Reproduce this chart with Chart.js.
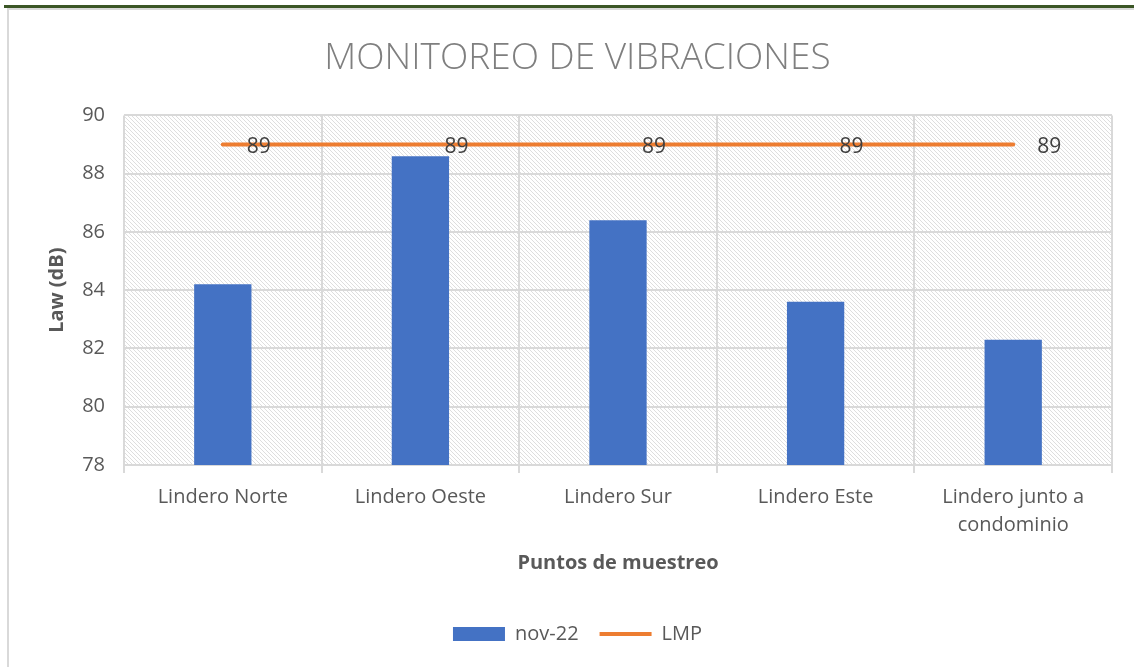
<!DOCTYPE html>
<html>
<head>
<meta charset="utf-8">
<script src="https://cdn.jsdelivr.net/npm/chart.js@4.4.0/dist/chart.umd.min.js"></script>
<style>
  html, body { margin: 0; padding: 0; background: #fff; }
  #wrap { position: relative; width: 1134px; height: 667px; overflow: hidden; }
  #topbar { position: absolute; left: 4px; top: 5px; right: 0; height: 3px; background: #3b5626; }
  #topline { position: absolute; left: 7px; top: 8px; right: 0; height: 2px; background: #d9d9d9; }
  #leftline { position: absolute; left: 7px; top: 8px; bottom: 0; width: 2px; background: #d9d9d9; }
  canvas { position: absolute; left: 0; top: 0; }
</style>
</head>
<body>
<div id="wrap">
  <div id="topbar"></div>
  <div id="topline"></div>
  <div id="leftline"></div>
  <canvas id="chart" width="1134" height="667"></canvas>
</div>
<script>
// --- datos ---
const categorias = ['Lindero Norte', 'Lindero Oeste', 'Lindero Sur', 'Lindero Este', ['Lindero junto a', 'condominio']];
const valoresNov22 = [84.2, 88.6, 86.4, 83.6, 82.3];
const valoresLMP = [89, 89, 89, 89, 89];
const ticksY = [78, 80, 82, 84, 86, 88, 90];

const gris = '#595959';
const gridColor = '#d9d9d9';
const fuente = '"Open Sans"';

// patrón rayado del área del gráfico
function crearPatron() {
    const c = document.createElement('canvas');
    c.width = 4; c.height = 4;
    const g = c.getContext('2d');
    g.fillStyle = '#ffffff';
    g.fillRect(0, 0, 4, 4);
    g.fillStyle = '#dedede';
    for (let i = 0; i < 4; i++) g.fillRect(i, i, 1, 1);
    return g.createPattern(c, 'repeat');
}

const fondoRayado = {
    id: 'fondoRayado',
    beforeDraw(chart) {
        const { ctx, chartArea: a } = chart;
        ctx.save();
        ctx.fillStyle = crearPatron();
        ctx.fillRect(a.left, a.top, a.right - a.left, a.bottom - a.top);
        ctx.restore();
    }
};

// etiquetas de datos de la línea LMP
const etiquetasLMP = {
    id: 'etiquetasLMP',
    afterDatasetsDraw(chart) {
        const { ctx } = chart;
        const meta = chart.getDatasetMeta(1);
        ctx.save();
        ctx.font = '21px ' + fuente;
        ctx.fillStyle = '#404040';
        ctx.textAlign = 'left';
        ctx.textBaseline = 'middle';
        meta.data.forEach((pt, i) => {
            ctx.fillText(String(valoresLMP[i]), pt.x + 24, pt.y + 2);
        });
        ctx.restore();
    }
};

const ctx = document.getElementById('chart').getContext('2d');
new Chart(ctx, {
    data: {
        labels: categorias,
        datasets: [
            {
                type: 'bar',
                label: 'nov-22',
                data: valoresNov22,
                backgroundColor: '#4472c4',
                borderWidth: 0,
                barPercentage: 0.29,
                categoryPercentage: 1,
                order: 2
            },
            {
                type: 'line',
                label: 'LMP',
                data: valoresLMP,
                borderColor: '#ed7d31',
                backgroundColor: '#ed7d31',
                borderWidth: 4,
                pointRadius: 0,
                borderCapStyle: 'round',
                order: 1
            }
        ]
    },
    options: {
        responsive: false,
        animation: false,
        layout: { padding: { left: 43, right: 22, top: 0, bottom: 13 } },
        plugins: {
            title: {
                display: true,
                text: 'MONITOREO DE VIBRACIONES',
                color: '#7f7f7f',
                font: { family: fuente, size: 37, weight: '300' },
                padding: { top: 36, bottom: 35 }
            },
            legend: {
                position: 'bottom',
                labels: {
                    color: gris,
                    font: { family: fuente, size: 20 },
                    usePointStyle: true,
                    pointStyleWidth: 52,
                    boxHeight: 14,
                    padding: 21,
                    generateLabels(chart) {
                        const items = Chart.defaults.plugins.legend.labels.generateLabels(chart);
                        items.sort((a, b) => a.datasetIndex - b.datasetIndex);
                        items.forEach(it => {
                            if (it.datasetIndex === 0) {
                                it.pointStyle = 'rect';
                                it.lineWidth = 0;
                            } else {
                                it.pointStyle = 'line';
                                it.lineWidth = 4;
                                it.strokeStyle = '#ed7d31';
                            }
                        });
                        return items;
                    }
                }
            },
            tooltip: { enabled: false }
        },
        scales: {
            x: {
                grid: { color: gridColor, lineWidth: 2, tickLength: 8, offset: true },
                border: { color: gridColor, width: 2 },
                ticks: {
                    color: gris,
                    font: { family: fuente, size: 20, lineHeight: 1.4 },
                    padding: 10,
                    maxRotation: 0
                },
                title: {
                    display: true,
                    text: 'Puntos de muestreo',
                    color: gris,
                    font: { family: fuente, size: 20, weight: 'bold' },
                    padding: { top: 4, bottom: 28 }
                },
                afterFit(s) { s.height = 138; }
            },
            y: {
                min: 78,
                max: 90,
                afterBuildTicks(s) { s.ticks = ticksY.map(v => ({ value: v })); },
                grid: { color: gridColor, lineWidth: 2, drawTicks: false },
                border: { display: false },
                ticks: {
                    color: gris,
                    font: { family: fuente, size: 20 },
                    padding: 19
                },
                title: {
                    display: true,
                    text: 'Law (dB)',
                    color: gris,
                    font: { family: fuente, size: 20, weight: 'bold' },
                    padding: { top: 2, bottom: 2 }
                },
                afterFit(s) { s.width = 81; }
            }
        }
    },
    plugins: [fondoRayado, etiquetasLMP]
});
</script>
</body>
</html>
